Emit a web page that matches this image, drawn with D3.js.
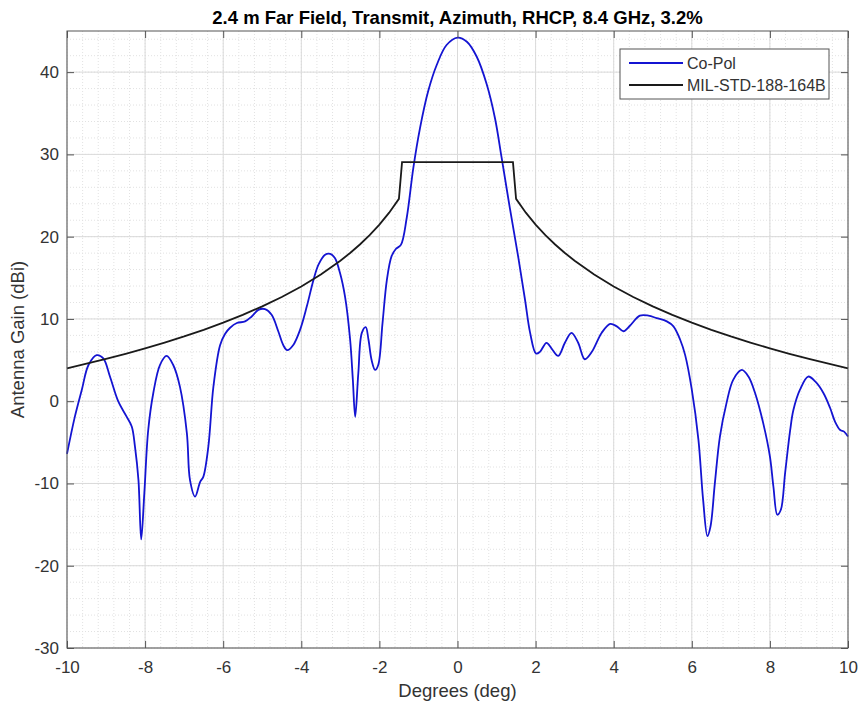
<!DOCTYPE html>
<html>
<head>
<meta charset="utf-8">
<script src="https://cdn.jsdelivr.net/npm/d3@7"></script>
<style>
    body { margin: 0; background: #fff; }
    svg { display: block; font-family: "Liberation Sans", Arial, sans-serif; }
</style>
</head>
<body>
<div id="content"></div>
<script>
// ======= data =======
var coPolDeg = [-10.00, -9.80, -9.62, -9.45, -9.24, -9.07, -8.90, -8.69, -8.47, -8.34, -8.26, -8.17, -8.10, -8.02, -7.92, -7.79,
    -7.62, -7.45, -7.28, -7.11, -6.93, -6.85, -6.72, -6.59, -6.51, -6.38, -6.25, -6.08, -5.95, -5.83, -5.65, -5.44, -5.27, -5.10,
    -4.93, -4.76, -4.59, -4.46, -4.36, -4.21, -4.03, -3.86, -3.69, -3.56, -3.39, -3.26, -3.14, -3.01, -2.88, -2.75, -2.68, -2.62,
    -2.54, -2.45, -2.35, -2.28, -2.20, -2.11, -2.03, -1.92, -1.81, -1.69, -1.58, -1.45, -1.30, -1.13, -0.96, -0.75, -0.53, -0.28,
    0.00, 0.24, 0.49, 0.75, 0.96, 1.13, 1.34, 1.56, 1.73, 1.86, 2.01, 2.11, 2.28, 2.41, 2.58, 2.75, 2.92, 3.09, 3.26, 3.44, 3.69,
    3.91, 4.08, 4.25, 4.42, 4.67, 4.89, 5.10, 5.36, 5.53, 5.70, 5.83, 6.00, 6.17, 6.29, 6.40, 6.48, 6.59, 6.72, 6.89, 7.06, 7.28,
    7.45, 7.62, 7.83, 8.00, 8.09, 8.19, 8.28, 8.39, 8.52, 8.60, 8.77, 8.98, 9.16, 9.37, 9.54, 9.67, 9.80, 9.90, 10.00];
var coPolGain = [-6.4, -1.9, 1.4, 4.4, 5.6, 5.2, 3.0, 0.0, -1.9, -3.1, -5.5, -9.6, -16.8, -11.2, -3.5, 1.0,
    4.4, 5.5, 4.4, 1.8, -3.9, -9.6, -11.6, -9.8, -9.2, -5.5, 1.8, 6.8, 8.2, 8.9, 9.5, 9.7, 10.3, 11.1,
    11.2, 10.5, 8.5, 6.8, 6.2, 6.8, 8.7, 11.5, 14.7, 16.6, 17.8, 17.9, 17.4, 15.6, 12.7, 7.5, 2.6, -1.9,
    3.4, 8.3, 9.0, 7.5, 5.0, 3.8, 4.4, 9.5, 14.7, 17.6, 18.5, 19.0, 22.3, 28.4, 33.2, 37.7, 40.9, 43.3,
    44.2, 43.7, 41.9, 38.5, 34.4, 29.6, 23.5, 17.4, 12.3, 8.3, 5.8, 6.0, 7.1, 6.4, 5.5, 7.1, 8.3, 7.1, 5.1, 6.0, 8.3,
    9.4, 9.1, 8.5, 9.2, 10.4, 10.4, 10.1, 9.7, 9.1, 7.5, 5.6, 1.4, -4.7, -12.0, -16.4, -15.2, -10.0, -4.3, -0.2, 2.6, 3.8,
    3.0, 1.0, -2.7, -6.7, -10.4, -13.8, -13.2, -8.7, -3.5, -1.1, 1.4, 3.0, 2.4, 1.0, -0.8, -2.5, -3.5, -3.7, -4.3];

var maskDeg = [-10, -9.5, -9, -8.5, -8, -7.5, -7, -6.5, -6, -5.5, -5, -4.5, -4, -3.5, -3, -2.75, -2.5, -2.25, -2, -1.75, -1.5,
    -1.42, 1.42, 1.5, 1.75, 2, 2.25, 2.5, 2.75, 3, 3.5, 4, 4.5, 5, 5.5, 6, 6.5, 7, 7.5, 8, 8.5, 9, 9.5, 10];
var maskGain = [4.00, 4.56, 5.14, 5.76, 6.42, 7.12, 7.87, 8.68, 9.55, 10.49, 11.53, 12.67, 13.95, 15.40, 17.07, 18.02, 19.05, 20.19, 21.47, 22.92, 24.60,
    29.05, 29.05, 24.60, 22.92, 21.47, 20.19, 19.05, 18.02, 17.07, 15.40, 13.95, 12.67, 11.53, 10.49, 9.55, 8.68, 7.87, 7.12, 6.42, 5.76, 5.14, 4.56, 4.00];

var xTicks = [-10, -8, -6, -4, -2, 0, 2, 4, 6, 8, 10];
var yTicks = [-30, -20, -10, 0, 10, 20, 30, 40];
var seriesNames = ["Co-Pol", "MIL-STD-188-164B"];
var seriesColors = ["#1414d2", "#1a1a1a"];

// ======= formatting =======
var W = 859, H = 707;
var margin = {top: 31, right: 11, bottom: 59, left: 67};
var width = W - margin.left - margin.right;
var height = H - margin.top - margin.bottom;
var axisColor = "#555";
var textColor = "#333";

// ======= scales =======
var xScale = d3.scaleLinear().domain([-10, 10]).range([0, width]);
var yScale = d3.scaleLinear().domain([-30, 45]).range([height, 0]);

// ======= elements =======
var svg = d3.select("#content").append("svg")
    .attr("width", W)
    .attr("height", H);
var g = svg.append("g")
    .attr("transform", "translate(" + margin.left + "," + margin.top + ")");

// == minor grid
var xMinor = d3.range(-10, 10.001, 0.4).map(function(d) { return +d.toFixed(2); });
var yMinor = d3.range(-30, 45.001, 2);
g.append("g").selectAll("line")
    .data(xMinor)
    .enter().append("line")
        .attr("x1", function(d) { return xScale(d); })
        .attr("x2", function(d) { return xScale(d); })
        .attr("y1", 0).attr("y2", height)
        .attr("stroke", "#e2e2e2")
        .attr("stroke-dasharray", "1,2");
g.append("g").selectAll("line")
    .data(yMinor)
    .enter().append("line")
        .attr("y1", function(d) { return yScale(d); })
        .attr("y2", function(d) { return yScale(d); })
        .attr("x1", 0).attr("x2", width)
        .attr("stroke", "#e2e2e2")
        .attr("stroke-dasharray", "1,2");

// == major grid
g.append("g").selectAll("line")
    .data(xTicks)
    .enter().append("line")
        .attr("x1", function(d) { return xScale(d); })
        .attr("x2", function(d) { return xScale(d); })
        .attr("y1", 0).attr("y2", height)
        .attr("stroke", "#dadada");
g.append("g").selectAll("line")
    .data(yTicks)
    .enter().append("line")
        .attr("y1", function(d) { return yScale(d); })
        .attr("y2", function(d) { return yScale(d); })
        .attr("x1", 0).attr("x2", width)
        .attr("stroke", "#dadada");

// ======= lines =======
var coPol = coPolDeg.map(function(d, i) { return [d, coPolGain[i]]; });
var mask = maskDeg.map(function(d, i) { return [d, maskGain[i]]; });

var lineSmooth = d3.line()
    .x(function(d) { return xScale(d[0]); })
    .y(function(d) { return yScale(d[1]); })
    .curve(d3.curveCatmullRom.alpha(0.5));
var lineStraight = d3.line()
    .x(function(d) { return xScale(d[0]); })
    .y(function(d) { return yScale(d[1]); });

g.append("path")
    .datum(coPol)
    .attr("d", lineSmooth)
    .attr("fill", "none")
    .attr("stroke", seriesColors[0])
    .attr("stroke-width", 1.8);
g.append("path")
    .datum(mask)
    .attr("d", lineStraight)
    .attr("fill", "none")
    .attr("stroke", seriesColors[1])
    .attr("stroke-width", 1.8);

// ======= axes =======
var tickLen = 7;
var plainFmt = function(d) { return String(d); };
g.append("g")
    .attr("class", "axis axis-x")
    .attr("transform", "translate(0," + height + ")")
    .call(d3.axisBottom(xScale).tickValues(xTicks).tickFormat(plainFmt).tickSizeInner(-tickLen).tickSizeOuter(0).tickPadding(tickLen + 6))
    .call(function(s) {
        s.select(".domain").remove();
        s.selectAll("line").attr("stroke", axisColor);
        s.selectAll("text").attr("fill", textColor).style("font-size", "17px");
    });
g.append("g")
    .attr("class", "axis axis-y")
    .call(d3.axisLeft(yScale).tickValues(yTicks).tickFormat(plainFmt).tickSizeInner(-tickLen).tickSizeOuter(0).tickPadding(tickLen + 1))
    .call(function(s) {
        s.select(".domain").remove();
        s.selectAll("line").attr("stroke", axisColor);
        s.selectAll("text").attr("fill", textColor).style("font-size", "17px");
    });
// == mirrored ticks (box on)
g.append("g")
    .call(d3.axisTop(xScale).tickValues(xTicks).tickSizeInner(-tickLen).tickSizeOuter(0).tickFormat(""))
    .call(function(s) { s.select(".domain").remove(); s.selectAll("line").attr("stroke", axisColor); });
g.append("g")
    .attr("transform", "translate(" + width + ",0)")
    .call(d3.axisRight(yScale).tickValues(yTicks).tickSizeInner(-tickLen).tickSizeOuter(0).tickFormat(""))
    .call(function(s) { s.select(".domain").remove(); s.selectAll("line").attr("stroke", axisColor); });

g.append("rect")
    .attr("width", width)
    .attr("height", height)
    .attr("fill", "none")
    .attr("stroke", axisColor)
    .attr("stroke-width", 1);

// ======= labels =======
svg.append("text")
    .attr("x", margin.left + width / 2)
    .attr("y", 24)
    .attr("text-anchor", "middle")
    .style("font-size", "18.5px")
    .style("font-weight", "bold")
    .attr("fill", "#000")
    .text("2.4 m Far Field, Transmit, Azimuth, RHCP, 8.4 GHz, 3.2%");
svg.append("text")
    .attr("x", margin.left + width / 2)
    .attr("y", 697)
    .attr("text-anchor", "middle")
    .style("font-size", "18.5px")
    .attr("fill", textColor)
    .text("Degrees (deg)");
svg.append("text")
    .attr("transform", "translate(24," + (margin.top + height / 2) + ") rotate(-90)")
    .attr("text-anchor", "middle")
    .style("font-size", "18.5px")
    .attr("fill", textColor)
    .text("Antenna Gain (dBi)");

// ======= legend =======
var legend = svg.append("g").attr("transform", "translate(620,49)");
legend.append("rect")
    .attr("width", 209)
    .attr("height", 50)
    .attr("fill", "#fff")
    .attr("stroke", axisColor);
seriesNames.forEach(function(name, i) {
    var ly = 14 + i * 22;
    legend.append("line")
        .attr("x1", 9).attr("x2", 63)
        .attr("y1", ly).attr("y2", ly)
        .attr("stroke", seriesColors[i])
        .attr("stroke-width", 1.8);
    legend.append("text")
        .attr("x", 67)
        .attr("y", ly + 5.5)
        .style("font-size", "16px")
        .attr("fill", textColor)
        .text(name);
});
</script>
</body>
</html>
